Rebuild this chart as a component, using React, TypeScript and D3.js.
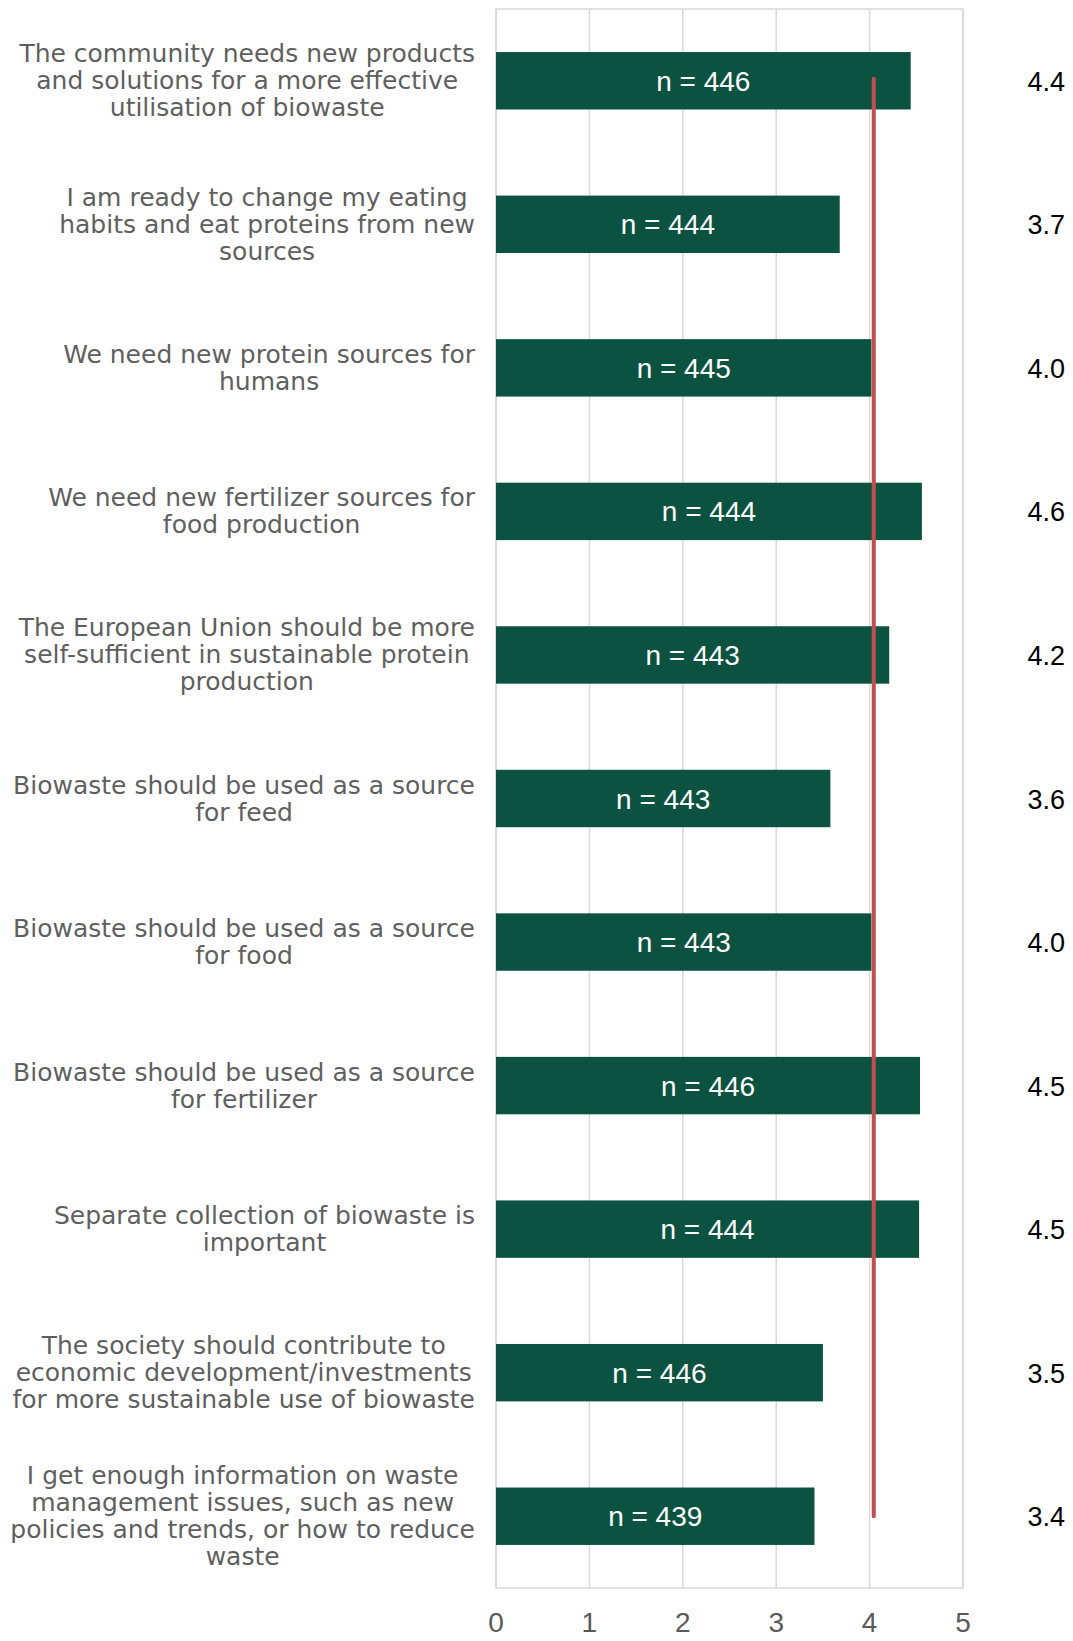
import React, { useEffect, useRef } from "react";
import * as d3 from "d3";

const statementLines: string[][] = [
  ["The community needs new products", "and solutions for a more effective", "utilisation of biowaste"],
  ["I am ready to change my eating", "habits and eat proteins from new", "sources"],
  ["We need new protein sources for", "humans"],
  ["We need new fertilizer sources for", "food production"],
  ["The European Union should be more", "self-sufficient in sustainable protein", "production"],
  ["Biowaste should be used as a source", "for feed"],
  ["Biowaste should be used as a source", "for food"],
  ["Biowaste should be used as a source", "for fertilizer"],
  ["Separate collection of biowaste is", "important"],
  ["The society should contribute to", "economic development/investments", "for more sustainable use of biowaste"],
  ["I get enough information on waste", "management issues, such as new", "policies and trends, or how to reduce", "waste"],
];
const meanScores: number[] = [4.44, 3.68, 4.02, 4.56, 4.21, 3.58, 4.02, 4.54, 4.53, 3.5, 3.41];
const respondents: number[] = [446, 444, 445, 444, 443, 443, 443, 446, 444, 446, 439];
const xTicks: number[] = [0, 1, 2, 3, 4, 5];

const W = 1073;
const H = 1641;

export default function App() {
  const ref = useRef<SVGSVGElement>(null);

  useEffect(() => {
    document.body.style.margin = "0";
    const svg = d3.select(ref.current!);
    svg.selectAll("*").remove();

    const left = 496, right = 963, top = 9, bottom = 1588;
    const idx = d3.range(meanScores.length);
    const x = d3.scaleLinear().domain([0, 5]).range([left, right]);
    const y = d3.scaleBand<number>().domain(idx).range([top, bottom]).paddingInner(0.6).paddingOuter(0.3);
    const cy = (i: number) => (y(i) as number) + y.bandwidth() / 2;
    const overall = d3.mean(meanScores) as number;

    // gridlines
    svg.append("g").selectAll("line").data(xTicks).join("line")
      .attr("x1", d => x(d)).attr("x2", d => x(d))
      .attr("y1", top).attr("y2", bottom)
      .attr("stroke", "#d9d9d9").attr("stroke-width", 1.5);
    // plot border
    svg.append("rect").attr("x", left).attr("y", top)
      .attr("width", right - left).attr("height", bottom - top)
      .attr("fill", "none").attr("stroke", "#d9d9d9").attr("stroke-width", 1.5);

    // bars
    svg.append("g").selectAll("rect").data(idx).join("rect")
      .attr("x", x(0)).attr("y", i => y(i) as number)
      .attr("width", i => x(meanScores[i]) - x(0))
      .attr("height", y.bandwidth())
      .attr("fill", "#0b5240");

    // n labels
    svg.append("g").selectAll("text").data(idx).join("text")
      .attr("x", i => x(meanScores[i] / 2))
      .attr("y", i => cy(i) + 10)
      .attr("text-anchor", "middle")
      .attr("font-family", "'Liberation Sans', Arial, sans-serif")
      .attr("font-size", 28).attr("fill", "#ffffff")
      .text(i => `n = ${respondents[i]}`);

    // mean line
    svg.append("line")
      .attr("x1", x(overall)).attr("x2", x(overall))
      .attr("y1", cy(0) - 2).attr("y2", cy(idx.length - 1))
      .attr("stroke", "#c0504d").attr("stroke-width", 4).attr("stroke-linecap", "round");

    // value labels on right
    svg.append("g").selectAll("text").data(idx).join("text")
      .attr("x", 1065).attr("y", i => cy(i) + 10)
      .attr("text-anchor", "end")
      .attr("font-family", "'Liberation Sans', Arial, sans-serif")
      .attr("font-size", 27).attr("fill", "#000000")
      .text(i => d3.format(".1f")(meanScores[i]));

    // category labels
    const lineH = 27;
    const labelRight = 475;
    const lg = svg.append("g")
      .attr("font-family", "'DejaVu Sans', sans-serif")
      .attr("font-size", 25).attr("fill", "#5f5f5f");
    idx.forEach(i => {
      const lines = statementLines[i];
      const n = lines.length;
      const g = lg.append("g");
      const texts = g.selectAll("text").data(lines).join("text")
        .attr("text-anchor", "middle")
        .attr("y", (_, j) => cy(i) + (j - (n - 1) / 2) * lineH + 8.5)
        .text(d => d);
      let maxW = 0;
      texts.each(function () {
        const w = (this as SVGTextElement).getComputedTextLength();
        if (w > maxW) maxW = w;
      });
      texts.attr("x", labelRight - maxW / 2);
    });

    // x tick labels
    svg.append("g").selectAll("text").data(xTicks).join("text")
      .attr("x", d => x(d)).attr("y", 1632)
      .attr("text-anchor", "middle")
      .attr("font-family", "'Liberation Sans', Arial, sans-serif")
      .attr("font-size", 28).attr("fill", "#595959")
      .text(d => String(d));
  }, []);

  return (
    <div style={{ position: "absolute", left: 0, top: 0 }}>
      <svg ref={ref} width={W} height={H} style={{ display: "block", background: "#ffffff" }} />
    </div>
  );
}
